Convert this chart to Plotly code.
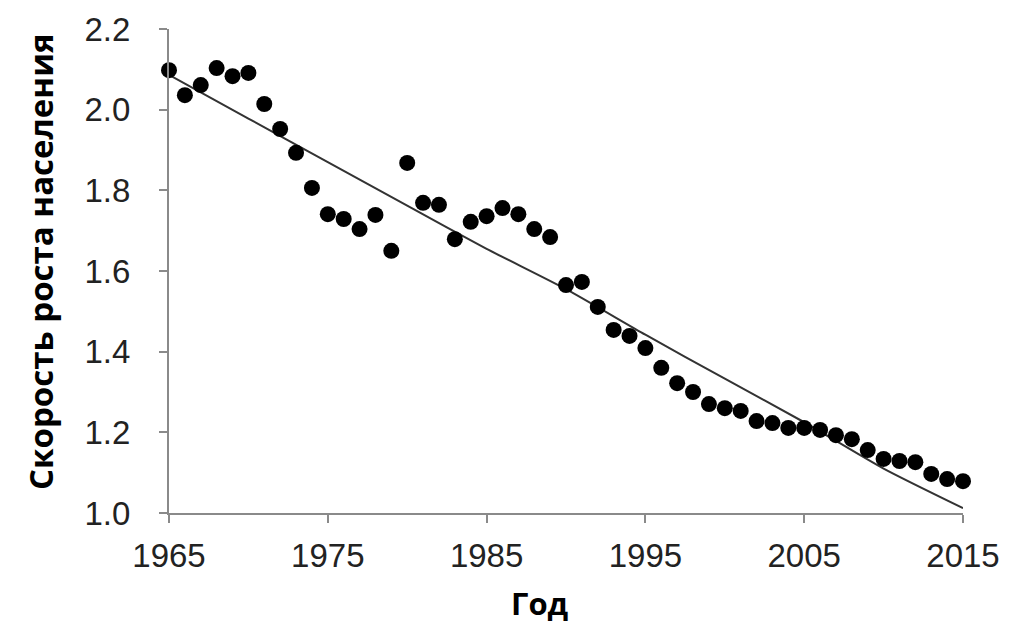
import plotly.graph_objects as go

years = list(range(1965, 2016))
growth = [2.098, 2.036, 2.061, 2.103, 2.083, 2.091, 2.014, 1.952, 1.893, 1.806,
          1.741, 1.729, 1.704, 1.739, 1.650, 1.868, 1.769, 1.764, 1.679, 1.722,
          1.736, 1.756, 1.741, 1.704, 1.684, 1.565, 1.573, 1.511, 1.454, 1.439,
          1.409, 1.360, 1.322, 1.300, 1.270, 1.260, 1.253, 1.228, 1.223, 1.211,
          1.211, 1.206, 1.193, 1.183, 1.156, 1.134, 1.129, 1.126, 1.097, 1.084,
          1.079]

trend_years = [1965, 1970, 1975, 1980, 1985, 1990, 1995, 2000, 2005, 2010, 2015]
trend_vals = [2.086, 1.978, 1.870, 1.762, 1.655, 1.555, 1.442, 1.333, 1.225, 1.110, 1.012]

x_ticks = [1965, 1975, 1985, 1995, 2005, 2015]
y_ticks = [1.0, 1.2, 1.4, 1.6, 1.8, 2.0, 2.2]

fig = go.Figure()
fig.add_trace(go.Scatter(x=trend_years, y=trend_vals, mode="lines",
                         line=dict(color="#333333", width=2, shape="spline", smoothing=0.6),
                         cliponaxis=False, hoverinfo="skip"))
fig.add_trace(go.Scatter(x=years, y=growth, mode="markers",
                         marker=dict(color="#000000", size=16),
                         cliponaxis=False))

axis_common = dict(showgrid=False, zeroline=False, showline=True, linecolor="#8a8a8a",
                   linewidth=2, ticks="outside", ticklen=8, tickwidth=2, tickcolor="#8a8a8a",
                   tickfont=dict(family="Liberation Sans, Arial", size=33, color="#222222"))

fig.update_layout(
    width=1026, height=626,
    margin=dict(l=169, r=63, t=29, b=113, autoexpand=False),
    paper_bgcolor="white", plot_bgcolor="white",
    showlegend=False,
    xaxis=dict(range=[1965, 2015], tickvals=x_ticks, ticktext=[str(v) for v in x_ticks],
               ticklabelstandoff=4, automargin=False, **axis_common),
    yaxis=dict(range=[1.0, 2.2], tickvals=y_ticks, ticktext=[f"{v:.1f}" for v in y_ticks],
               ticklabelstandoff=22, automargin=False, **axis_common),
    annotations=[
        dict(text="<b>Год</b>", xref="paper", yref="paper", x=(540 - 169) / 794, y=-(603 - 513) / 484,
             showarrow=False, xanchor="center", yanchor="middle",
             font=dict(family="Open Sans", size=31, color="#000000")),
        dict(text="<b>Скорость роста населения</b>", xref="paper", yref="paper",
             x=-(169 - 40) / 794, y=(513 - 262) / 484, textangle=-90,
             showarrow=False, xanchor="center", yanchor="middle",
             font=dict(family="Open Sans", size=33, color="#000000")),
    ],
)

fig.write_html("out.html", config={"displayModeBar": False},
               post_script="document.body.style.margin='0';document.body.style.overflow='hidden';")
